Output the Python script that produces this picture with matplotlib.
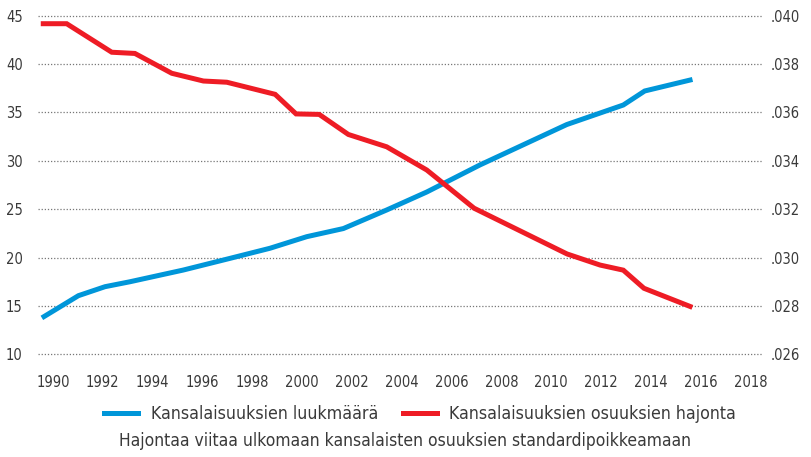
import matplotlib
matplotlib.use("Agg")
import matplotlib.pyplot as plt
from matplotlib.ticker import FuncFormatter

plt.rcParams['font.family'] = ['DejaVu Sans']
plt.rcParams['font.stretch'] = 'condensed'

# luukmäärä (left axis)
count_years = [1989.64, 1991.02, 1992.09, 1993.09, 1995.23, 1997.11, 1998.71, 2000.19,
               2001.66, 2003.40, 2005.01, 2007.14, 2010.63, 2012.90, 2013.76, 2015.58]
count_vals = [13.9, 16.06, 16.99, 17.5, 18.71, 19.92, 20.96, 22.16,
              23.0, 24.92, 26.78, 29.57, 33.75, 35.77, 37.22, 38.35]

# hajonta (right axis)
sd_years = [1989.61, 1990.55, 1992.36, 1993.29, 1994.77, 1996.04, 1996.98, 1998.92,
            1999.76, 2000.69, 2001.86, 2003.40, 2005.01, 2006.91, 2010.64, 2011.97,
            2012.90, 2013.73, 2015.58]
sd_vals = [0.03967, 0.03967, 0.03849, 0.03844, 0.03762, 0.03730, 0.03725, 0.03675,
           0.03594, 0.03592, 0.03509, 0.03458, 0.03362, 0.03204, 0.03015, 0.02969,
           0.02948, 0.02873, 0.02798]

x_ticks = list(range(1990, 2019, 2))
left_ticks = [10, 15, 20, 25, 30, 35, 40, 45]
right_ticks = [0.026, 0.028, 0.030, 0.032, 0.034, 0.036, 0.038, 0.040]

blue = "#0096d9"
red = "#ee1c25"
txt = "#3a3a3a"

fig = plt.figure(figsize=(8.11, 4.57), dpi=100)
ax = fig.add_axes([0.0469, 0.2247, 0.8927, 0.7409])
ax2 = ax.twinx()

l1, = ax.plot(count_years, count_vals, color=blue, lw=3.6, solid_joinstyle="miter",
              label="Kansalaisuuksien luukmäärä")
l2, = ax2.plot(sd_years, sd_vals, color=red, lw=3.6, solid_joinstyle="miter",
               label="Kansalaisuuksien osuuksien hajonta")

ax.set_xlim(1989.40, 2018.47)
ax.set_ylim(10, 45)
ax2.set_ylim(0.026, 0.040)
ax.set_xticks(x_ticks)
ax.set_yticks(left_ticks)
ax2.set_yticks(right_ticks)
ax2.yaxis.set_major_formatter(FuncFormatter(lambda v, p: f"{v:.3f}".lstrip("0")))

ax.grid(axis="y", linestyle=(0, (1, 1.5)), color="#777777", linewidth=0.9)
ax.grid(axis="x", visible=False)
for g in ax.get_ygridlines():
    g.set_clip_on(False)
for a in (ax, ax2):
    for s in a.spines.values():
        s.set_visible(False)
ax.tick_params(axis="both", length=0, colors=txt, labelsize=10.5)
ax.tick_params(axis="x", pad=15)
ax.tick_params(axis="y", pad=11)
ax2.tick_params(axis="y", length=0, colors=txt, labelsize=10.5, pad=6)

fig.legend(handles=[l1, l2], loc="center", bbox_to_anchor=(0.518, 0.094), ncol=2,
           frameon=False, fontsize=12.7, handlelength=1.95, columnspacing=1.4,
           handletextpad=0.7, labelcolor=txt)
fig.text(0.4995, 0.035, "Hajontaa viitaa ulkomaan kansalaisten osuuksien standardipoikkeamaan",
         ha="center", va="center", fontsize=12.5, color=txt)

fig.savefig("out.png", dpi=100)
